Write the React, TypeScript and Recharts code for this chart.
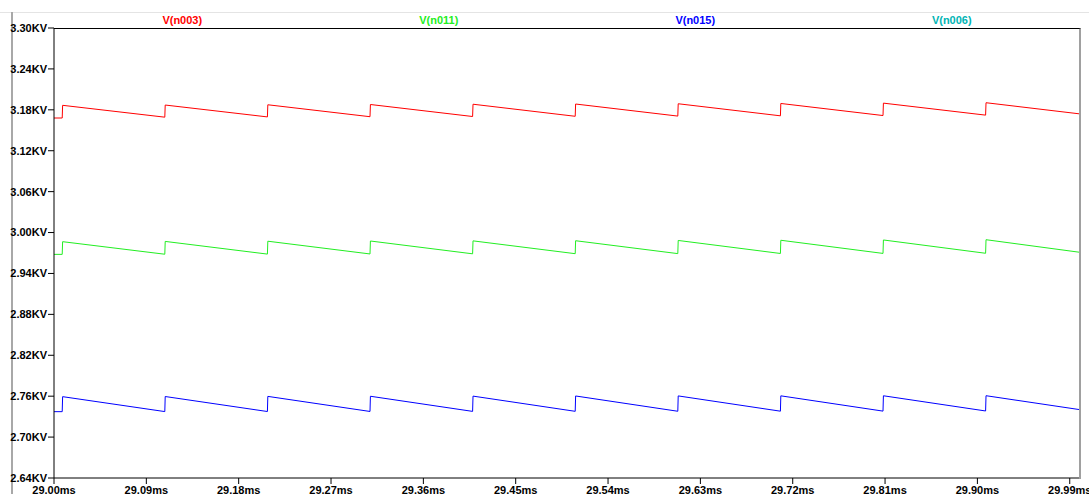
import { LineChart, Line, XAxis, YAxis } from 'recharts';

// switching instants of the sawtooth (ms)
const jumpTimes = [29.008, 29.108, 29.208, 29.308, 29.408, 29.508, 29.608, 29.708, 29.808, 29.908];
const tStart = 29.0;
const tEnd = 30.0;

// kV values: value just before each jump, just after, and the end value
const n003Before = [3.168, 3.1692, 3.1696, 3.1699, 3.1702, 3.1705, 3.1708, 3.1712, 3.1716, 3.1722];
const n003After = [3.1866, 3.1870, 3.1874, 3.1878, 3.1882, 3.1885, 3.1889, 3.1893, 3.1898, 3.1904];
const n003Final = 3.1740;

const n011Before = [2.968, 2.9682, 2.9684, 2.9686, 2.9688, 2.9690, 2.9691, 2.9693, 2.9694, 2.9696];
const n011After = [2.9866, 2.9870, 2.9873, 2.9876, 2.9878, 2.9880, 2.9884, 2.9887, 2.9891, 2.9895];
const n011Final = 2.9710;

const n015Before = [2.7373, 2.7374, 2.7375, 2.7376, 2.7377, 2.7378, 2.7379, 2.7380, 2.7381, 2.7383];
const n015After = [2.7593, 2.7595, 2.7597, 2.7599, 2.7601, 2.7603, 2.7604, 2.7605, 2.7606, 2.7607];
const n015Final = 2.7402;

const xTicks = [29.0, 29.09, 29.18, 29.27, 29.36, 29.45, 29.54, 29.63, 29.72, 29.81, 29.9, 29.99];
const yTicks = [2.64, 2.7, 2.76, 2.82, 2.88, 2.94, 3.0, 3.06, 3.12, 3.18, 3.24, 3.3];

const traces = [
  { key: 'n003', name: 'V(n003)', color: '#ff0000' },
  { key: 'n011', name: 'V(n011)', color: '#22ee22' },
  { key: 'n015', name: 'V(n015)', color: '#0000ff' },
  { key: 'n006', name: 'V(n006)', color: '#00b4b4' },
];

const data: any[] = [{ t: tStart, n003: n003Before[0], n011: n011Before[0], n015: n015Before[0] }];
jumpTimes.forEach((t, i) => {
  data.push({ t, n003: n003Before[i], n011: n011Before[i], n015: n015Before[i] });
  data.push({ t: t + 0.0004, n003: n003After[i], n011: n011After[i], n015: n015After[i] });
});
data.push({ t: tEnd, n003: n003Final, n011: n011Final, n015: n015Final });

const font = '"Liberation Sans", Arial, sans-serif';
const tickStyle = { fill: '#000', fontSize: 11, fontWeight: 'bold' as const, fontFamily: font };

export default function App() {
  return (
    <div style={{ position: 'absolute', left: 0, top: 0, width: 1089, height: 494, background: '#fff', overflow: 'hidden' }}>
      {/* window frame */}
      <div style={{ position: 'absolute', left: 0, top: 12, width: 1089, height: 1, background: '#e4e4e4' }} />
      <div style={{ position: 'absolute', left: 11, top: 12, width: 2, height: 482, background: '#a8a8a8' }} />

      <LineChart width={1089} height={494} data={data} margin={{ top: 28, right: 9, bottom: 0, left: 0 }}>
        <XAxis
          dataKey="t"
          type="number"
          domain={[tStart, tEnd]}
          ticks={xTicks}
          tickFormatter={(v: number) => v.toFixed(2) + 'ms'}
          height={16}
          tickSize={6}
          tickMargin={2}
          interval={0}
          stroke="#000"
          tick={tickStyle}
          allowDataOverflow
        />
        <YAxis
          type="number"
          domain={[2.64, 3.3]}
          ticks={yTicks}
          tickFormatter={(v: number) => v.toFixed(2) + 'KV'}
          width={54}
          tickSize={6}
          tickMargin={1}
          interval={0}
          stroke="#000"
          tick={tickStyle}
          allowDataOverflow
        />
        {traces.slice(0, 3).map((s) => (
          <Line
            key={s.key}
            dataKey={s.key}
            type="linear"
            stroke={s.color}
            strokeWidth={1}
            dot={false}
            isAnimationActive={false}
          />
        ))}
      </LineChart>

      {/* plot frame top and right */}
      <div
        style={{
          position: 'absolute',
          left: 54,
          top: 28,
          width: 1025,
          height: 450,
          borderTop: '1px solid #000',
          borderRight: '2px solid #a0a0a0',
          pointerEvents: 'none',
        }}
      />

      {/* trace names */}
      <div style={{ position: 'absolute', left: 54, top: 13, width: 1026, display: 'flex', fontFamily: font, fontSize: 11, fontWeight: 'bold', lineHeight: '14px' }}>
        {traces.map((s) => (
          <div key={s.key} style={{ flex: 1, textAlign: 'center', color: s.color }}>
            {s.name}
          </div>
        ))}
      </div>
    </div>
  );
}
